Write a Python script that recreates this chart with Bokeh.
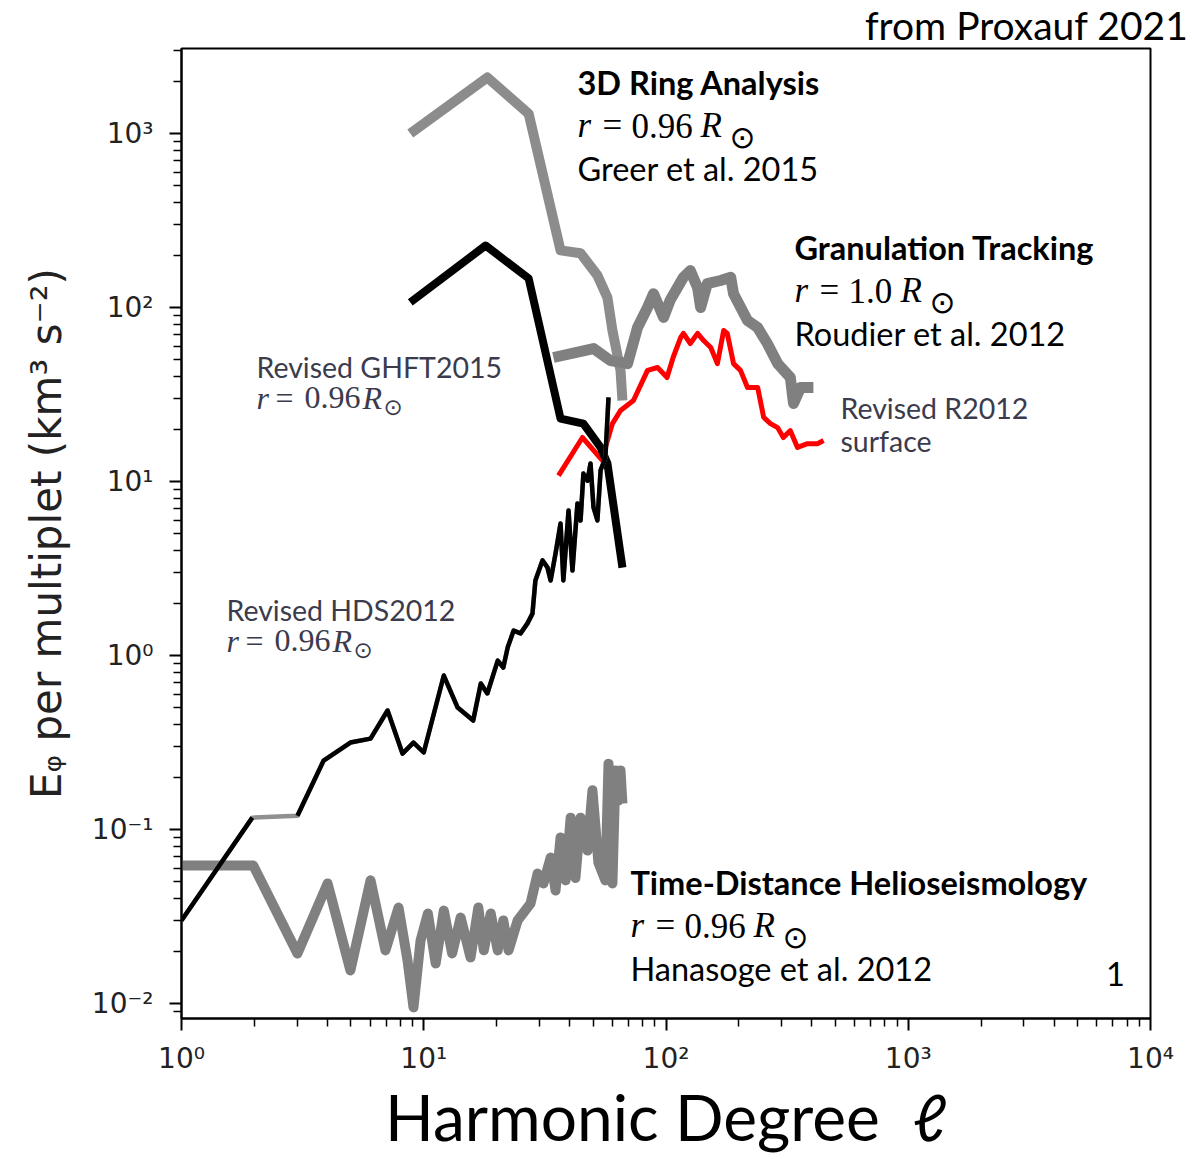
import math
from bokeh.plotting import figure
from bokeh.models import Range1d, FixedTicker, Label, Title
from bokeh.embed import file_html
from bokeh.resources import INLINE

nan = float("nan")

# ---------------- data ----------------
# 3D ring analysis, Greer et al. 2015 (grey, thick)
greer_l = [8.8, 18.3, 27.1, 36.7, 44.4, 52.1, 57.3, 60.1, 64.9, 66.1]
greer_E = [1000, 2100, 1300, 213, 205, 153, 114, 73.8, 43.5, 29.2]

# Revised GHFT2015 (black, thick)
ghft_l = [8.8, 18.0, 27.1, 36.7, 45.6, 53.7, 57.3, 66.1]
ghft_E = [107, 227, 147, 23.0, 21.5, 15.7, 12.7, 3.2]

# Granulation tracking, Roudier et al. 2012 (grey, thick)
roudier_l = [34.3, 50.2, 59.0, 69.4, 76.3, 83.9, 88.8, 97.7, 104, 118, 126, 135, 139,
             148, 168, 185, 190, 217, 239, 262, 289, 326, 336, 359, 406]
roudier_E = [51.6, 58.1, 49.5, 47.6, 76.7, 100, 120, 87.7, 110, 149, 163, 130, 100,
             137, 143, 149, 120, 84.1, 76.7, 62.1, 47.6, 39.6, 28.1, 34.7, 34.7]

# Revised R2012 surface (red)
r2012_l = [36.0, 45.2, 54.7, 56.2, 60.1, 64.9, 73.4, 83.9, 92.3, 101, 107, 115, 118, 126,
           135, 143, 153, 163, 173, 179, 190, 203, 217, 239, 253, 270, 289, 305, 326,
           349, 384, 422, 447]
r2012_E = [10.8, 17.9, 13.2, 15.7, 21.5, 25.6, 29.2, 43.5, 45.2, 39.6, 51.6, 67.3, 71.0,
           62.1, 71.0, 64.6, 58.9, 47.6, 73.8, 71.0, 47.6, 43.5, 34.7, 34.7, 23.4, 21.5,
           20.4, 17.9, 19.6, 15.7, 16.5, 16.5, 17.2]

# Revised HDS2012 (black, thin)
hds_l = [1.0, 1.96, 3.01, 3.86, 4.98, 6.03, 7.09, 8.17, 9.07, 10.0, 12.1, 13.8, 16.0, 17.2,
         18.3, 20.2, 21.3, 22.2, 23.5, 25.1, 26.8, 28.1, 28.9, 30.9, 32.4, 33.4, 35.0,
         36.7, 37.7, 39.6, 41.1, 43.1, 44.4, 45.6, 47.4, 48.8, 50.2, 52.1, 53.7, 56.2, 57.9]
hds_E = [0.030, 0.117, 0.120, 0.249, 0.316, 0.333, 0.483, 0.273, 0.316, 0.277, 0.767,
         0.502, 0.423, 0.690, 0.605, 0.935, 0.853, 1.11, 1.39, 1.34, 1.53, 1.74, 2.70,
         3.52, 3.21, 2.70, 3.86, 5.74, 2.70, 6.81, 3.08, 7.48, 5.97, 11.1, 10.1, 12.7,
         7.10, 5.97, 11.6, 13.7, 30.4]

# Time-distance helioseismology, Hanasoge et al. 2012 (grey, thick)
td_l = [1.0, 1.98, 3.01, 4.01, 4.98, 6.03, 6.95, 7.87, 8.57, 9.07, 9.70, 10.4, 11.2, 12.1,
        13.1, 14.2, 15.6, 16.8, 17.7, 18.9, 20.2, 21.3, 22.4, 24.4, 27.6, 29.5, 31.2,
        33.4, 35.0, 36.7, 38.5, 40.4, 42.3, 44.4, 47.4, 49.7, 52.6, 56.2, 57.9, 60.1,
        61.9, 63.7, 64.9, 66.1]
td_E = [0.062, 0.062, 0.0194, 0.049, 0.0155, 0.051, 0.0202, 0.0356, 0.0177, 0.0095,
        0.023, 0.0329, 0.017, 0.0342, 0.0194, 0.0312, 0.0184, 0.0356, 0.0202, 0.0329,
        0.0202, 0.030, 0.0202, 0.030, 0.0376, 0.0558, 0.049, 0.069, 0.0446, 0.090,
        0.051, 0.117, 0.0527, 0.117, 0.0757, 0.168, 0.0644, 0.051, 0.239, 0.049,
        0.218, 0.147, 0.218, 0.141]

x_ticks = [1, 10, 100, 1000, 10000]
x_tick_labels = ["10⁰", "10¹", "10²", "10³", "10⁴"]
y_ticks = [0.01, 0.1, 1, 10, 100, 1000]
y_tick_labels = ["10⁻²", "10⁻¹", "10⁰", "10¹", "10²", "10³"]

# ---------------- figure ----------------
FL, FR, FT, FB = 181, 1150, 48, 1018
Y_TOP_LOG, Y_BOT_LOG = 3.4885, -2.0862

p = figure(width=1192, height=1159, x_axis_type="log", y_axis_type="log",
           x_range=Range1d(1, 1e4), y_range=Range1d(10 ** Y_BOT_LOG, 10 ** Y_TOP_LOG),
           output_backend="svg", toolbar_location=None,
           min_border_left=FL, min_border_right=1192 - FR,
           min_border_top=FT, min_border_bottom=1159 - FB)

p.xgrid.visible = False
p.ygrid.visible = False
p.outline_line_color = "black"
p.outline_line_width = 2
p.background_fill_color = "white"
p.border_fill_color = "white"

# credit line above the frame, right-aligned and pushed past the frame edge
p.add_layout(Title(text="from Proxauf 2021", align="right", offset=-38, standoff=0,
                   text_font="Lato", text_font_size="39px", text_font_style="normal",
                   text_color="black", vertical_align="middle"), "above")

def minor(decades):
    return [k * 10 ** d for d in decades for k in range(2, 10)]

p.xaxis.ticker = FixedTicker(ticks=x_ticks, minor_ticks=minor(range(0, 4)))
p.yaxis.ticker = FixedTicker(ticks=y_ticks, minor_ticks=minor(range(-3, 4)))
p.xaxis.major_label_overrides = {float(t): s for t, s in zip(x_ticks, x_tick_labels)}
p.yaxis.major_label_overrides = {float(t): s for t, s in zip(y_ticks, y_tick_labels)}

for ax in (p.xaxis, p.yaxis):
    ax.axis_line_color = "black"
    ax.axis_line_width = 2
    ax.major_tick_line_color = "black"
    ax.minor_tick_line_color = "black"
    ax.major_tick_line_width = 2
    ax.minor_tick_line_width = 1.5
    ax.major_tick_in = 0
    ax.minor_tick_in = 0
    ax.major_tick_out = 12
    ax.minor_tick_out = 8
    ax.major_label_text_font = "DejaVu Sans"
    ax.major_label_text_font_size = "28px"
    ax.major_label_text_color = "#222222"

p.xaxis.major_label_standoff = 11
p.yaxis.major_label_standoff = 16

p.xaxis.axis_label = "Harmonic Degree\u00a0\u00a0ℓ"
p.xaxis.axis_label_text_font = "Lato"
p.xaxis.axis_label_text_font_size = "64px"
p.xaxis.axis_label_text_font_style = "normal"
p.xaxis.axis_label_text_color = "black"
p.xaxis.axis_label_standoff = 0

p.yaxis.axis_label = "Eᵩ per multiplet (km³ s⁻²)"
p.yaxis.axis_label_text_font = "DejaVu Sans"
p.yaxis.axis_label_text_font_size = "42px"
p.yaxis.axis_label_text_font_style = "normal"
p.yaxis.axis_label_text_color = "#222222"
p.yaxis.axis_label_standoff = 18

# ---------------- lines ----------------
p.line(td_l, td_E, line_color="#808080", line_width=10, line_join="round")
p.line(greer_l, greer_E, line_color="#8c8c8c", line_width=10, line_join="round")
p.line(roudier_l, roudier_E, line_color="#808080", line_width=11, line_join="round")
p.line(r2012_l, r2012_E, line_color="#ff0000", line_width=5, line_join="round")
p.line(ghft_l, ghft_E, line_color="black", line_width=8, line_join="round")
# original (grey) underneath the revised (black) thin curve
p.line(hds_l, hds_E, line_color="#909090", line_width=4.5, line_join="round")
hds_rev_l = hds_l[:2] + [nan] + hds_l[2:]
hds_rev_E = hds_E[:2] + [nan] + hds_E[2:]
p.line(hds_rev_l, hds_rev_E, line_color="black", line_width=4.5, line_join="round")

# ---------------- annotations (positions given in picture pixels) ----------------
def px_x(px):
    return 10 ** ((px - FL) / 242.25)

def px_y(py):
    return 10 ** (Y_TOP_LOG - (py - FT) / 174.0)

def text(px, py, s, size, font="Lato", style="normal", color="black", align="left"):
    p.add_layout(Label(x=px_x(px), y=px_y(py), text=s, text_font=font,
                       text_font_size=f"{size}px", text_font_style=style,
                       text_color=color, text_align=align, text_baseline="middle"))

def math_line(px, py, num, size, offsets, color="black", sun_size=31, sun_dy=11):
    dx_eq, dx_num, dx_R, dx_sun = offsets
    text(px, py, "r", size, font="Liberation Serif", style="italic", color=color)
    text(px + dx_eq, py, "=", size, font="Liberation Serif", color=color)
    text(px + dx_num, py, num, size, font="Liberation Serif", color=color)
    text(px + dx_R, py, "R", size, font="Liberation Serif", style="italic", color=color)
    text(px + dx_sun, py + sun_dy, "⊙", sun_size, font="DejaVu Sans", color=color)

BIG = 32.5
text(577, 82, "3D Ring Analysis", BIG, style="bold")
math_line(577, 125, "0.96", 35, (25, 54, 123, 152))
text(577, 168, "Greer et al. 2015", BIG)

text(794, 247, "Granulation Tracking", BIG, style="bold")
math_line(794, 290, "1.0", 35, (25, 54, 106, 135))
text(794, 333, "Roudier et al. 2012", BIG)

text(630, 882, "Time-Distance Helioseismology", BIG, style="bold")
math_line(630, 925, "0.96", 35, (25, 54, 123, 152))
text(630, 968, "Hanasoge et al. 2012", BIG)
text(1115, 973, "1", BIG, align="center")

rev_col = "#3b3b4d"
REV = 28.5
text(256, 366, "Revised GHFT2015", REV, color=rev_col)
math_line(256, 397, "0.96", 32, (19, 48, 106, 127), color=rev_col, sun_size=23, sun_dy=9)
text(226, 609, "Revised HDS2012", REV, color=rev_col)
math_line(226, 640, "0.96", 32, (19, 48, 106, 127), color=rev_col, sun_size=23, sun_dy=9)
text(840, 407, "Revised R2012", REV, color=rev_col)
text(840, 440, "surface", REV, color=rev_col)

open("out.html", "w").write(file_html(p, INLINE))
